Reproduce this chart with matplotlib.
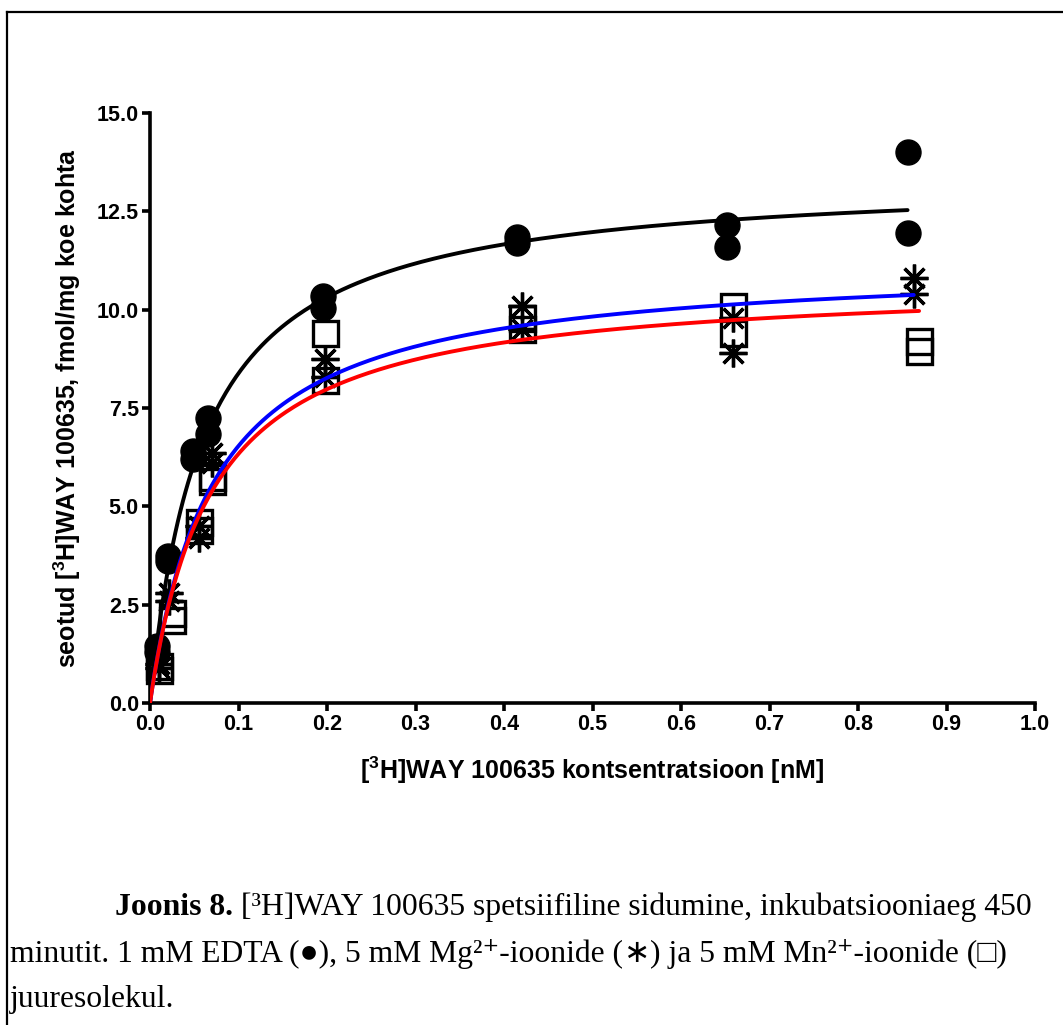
import matplotlib.pyplot as plt
import numpy as np
from matplotlib.lines import Line2D

plt.rcParams['mathtext.fontset'] = 'custom'
plt.rcParams['mathtext.sf'] = 'Liberation Sans:bold'

# measured points (concentration nM, bound fmol/mg)
edta_x = [0.008, 0.008, 0.020, 0.020, 0.049, 0.049, 0.066, 0.066, 0.195, 0.195, 0.415, 0.415, 0.652, 0.652, 0.856, 0.856]
edta_y = [1.45, 1.3, 3.75, 3.6, 6.4, 6.2, 7.25, 6.85, 10.35, 10.05, 11.85, 11.7, 12.15, 11.6, 14.0, 11.95]

mg_x = [0.010, 0.010, 0.022, 0.022, 0.055, 0.055, 0.070, 0.070, 0.198, 0.198, 0.420, 0.420, 0.659, 0.659, 0.863, 0.863]
mg_y = [1.0, 0.9, 2.8, 2.6, 4.5, 4.2, 6.35, 6.1, 8.75, 8.3, 10.1, 9.5, 9.8, 8.9, 10.8, 10.4]

mn_x = [0.010, 0.010, 0.025, 0.025, 0.055, 0.055, 0.070, 0.070, 0.198, 0.198, 0.420, 0.420, 0.659, 0.659, 0.869, 0.869]
mn_y = [0.95, 0.85, 2.3, 2.1, 4.6, 4.4, 5.75, 5.65, 9.4, 8.2, 9.8, 9.5, 10.1, 9.4, 9.2, 8.95]

# one-site binding fits: Bmax, Kd
fit_edta = (13.41, 0.060)
fit_mg = (11.24, 0.072)
fit_mn = (10.77, 0.070)

xticks = [0.0, 0.1, 0.2, 0.3, 0.4, 0.5, 0.6, 0.7, 0.8, 0.9, 1.0]
yticks = [0.0, 2.5, 5.0, 7.5, 10.0, 12.5, 15.0]


def binding(x, bmax, kd):
    return bmax * x / (kd + x)


fig = plt.figure(figsize=(10.63, 10.25), dpi=100)
ax = fig.add_axes([150/1063, 1 - 703/1025, 885/1063, 590/1025])

ax.plot(edta_x, edta_y, 'o', color='black', markersize=18, clip_on=False, zorder=3)
ax.plot(mg_x, mg_y, marker=(8, 2, 0), linestyle='none', color='black',
        markersize=20, markeredgewidth=2.4, clip_on=False, zorder=3)
ax.plot(mn_x, mn_y, 's', markerfacecolor='none', markeredgecolor='black',
        markersize=18, markeredgewidth=2.4, clip_on=False, zorder=3)

for xs, fit, col in [(edta_x, fit_edta, 'black'), (mg_x, fit_mg, 'blue'), (mn_x, fit_mn, 'red')]:
    xx = np.linspace(0, max(xs), 300)
    ax.plot(xx, binding(xx, *fit), color=col, linewidth=2.8, zorder=4,
            solid_capstyle='round')

ax.set_xlim(0, 1.0)
ax.set_ylim(0, 15)
ax.set_xticks(xticks)
ax.set_xticklabels([f'{v:.1f}' for v in xticks])
ax.set_yticks(yticks)
ax.set_yticklabels([f'{v:.1f}' for v in yticks])
for s in ['top', 'right']:
    ax.spines[s].set_visible(False)
for s in ['left', 'bottom']:
    ax.spines[s].set_linewidth(2.6)
ax.tick_params(width=2.6, length=6, direction='out', pad=2)
for lab in ax.get_xticklabels() + ax.get_yticklabels():
    lab.set_fontfamily('Liberation Sans')
    lab.set_fontweight('bold')
    lab.set_fontsize(15.5)

ax.set_xlabel(r'[$^{\mathsf{3}}$H]WAY 100635 kontsentratsioon [nM]',
              fontfamily='Liberation Sans', fontweight='bold', fontsize=18, labelpad=14)
ax.set_ylabel(r'seotud [$^{\mathsf{3}}$H]WAY 100635, fmol/mg koe kohta',
              fontfamily='Liberation Sans', fontweight='bold', fontsize=18, labelpad=10)

# caption, drawn piece by piece so the bold lead and the asterisk glyph can differ
serif = ['Liberation Serif', 'DejaVu Sans']
capsize = 22.8
renderer = fig.canvas.get_renderer()


def caption_line(x_px, y_px, pieces):
    x = x_px
    for txt, kw in pieces:
        t = fig.text(x / 1063, 1 - y_px / 1025, txt, fontsize=capsize, va='baseline', **kw)
        x += t.get_window_extent(renderer).width


caption_line(115, 915, [('Joonis 8.', dict(fontfamily=serif, fontweight='bold')),
                        (' [\u00b3H]WAY 100635 spetsiifiline sidumine, inkubatsiooniaeg 450',
                         dict(fontfamily=serif))])
caption_line(10, 962, [('minutit. 1 mM EDTA (\u25cf), 5 mM Mg\u00b2\u207a-ioonide (', dict(fontfamily=serif)),
                       ('\u2217', dict(fontfamily='DejaVu Sans')),
                       (') ja 5 mM Mn\u00b2\u207a-ioonide (\u25a1)', dict(fontfamily=serif))])
caption_line(10, 1007, [('juuresolekul.', dict(fontfamily=serif))])

# text box frame (left and top edges visible)
fig.add_artist(Line2D([7/1063, 7/1063], [0, 1 - 12/1025], color='black', linewidth=1.6))
fig.add_artist(Line2D([7/1063, 1], [1 - 12/1025, 1 - 12/1025], color='black', linewidth=1.6))

fig.savefig('out.png', dpi=100)
